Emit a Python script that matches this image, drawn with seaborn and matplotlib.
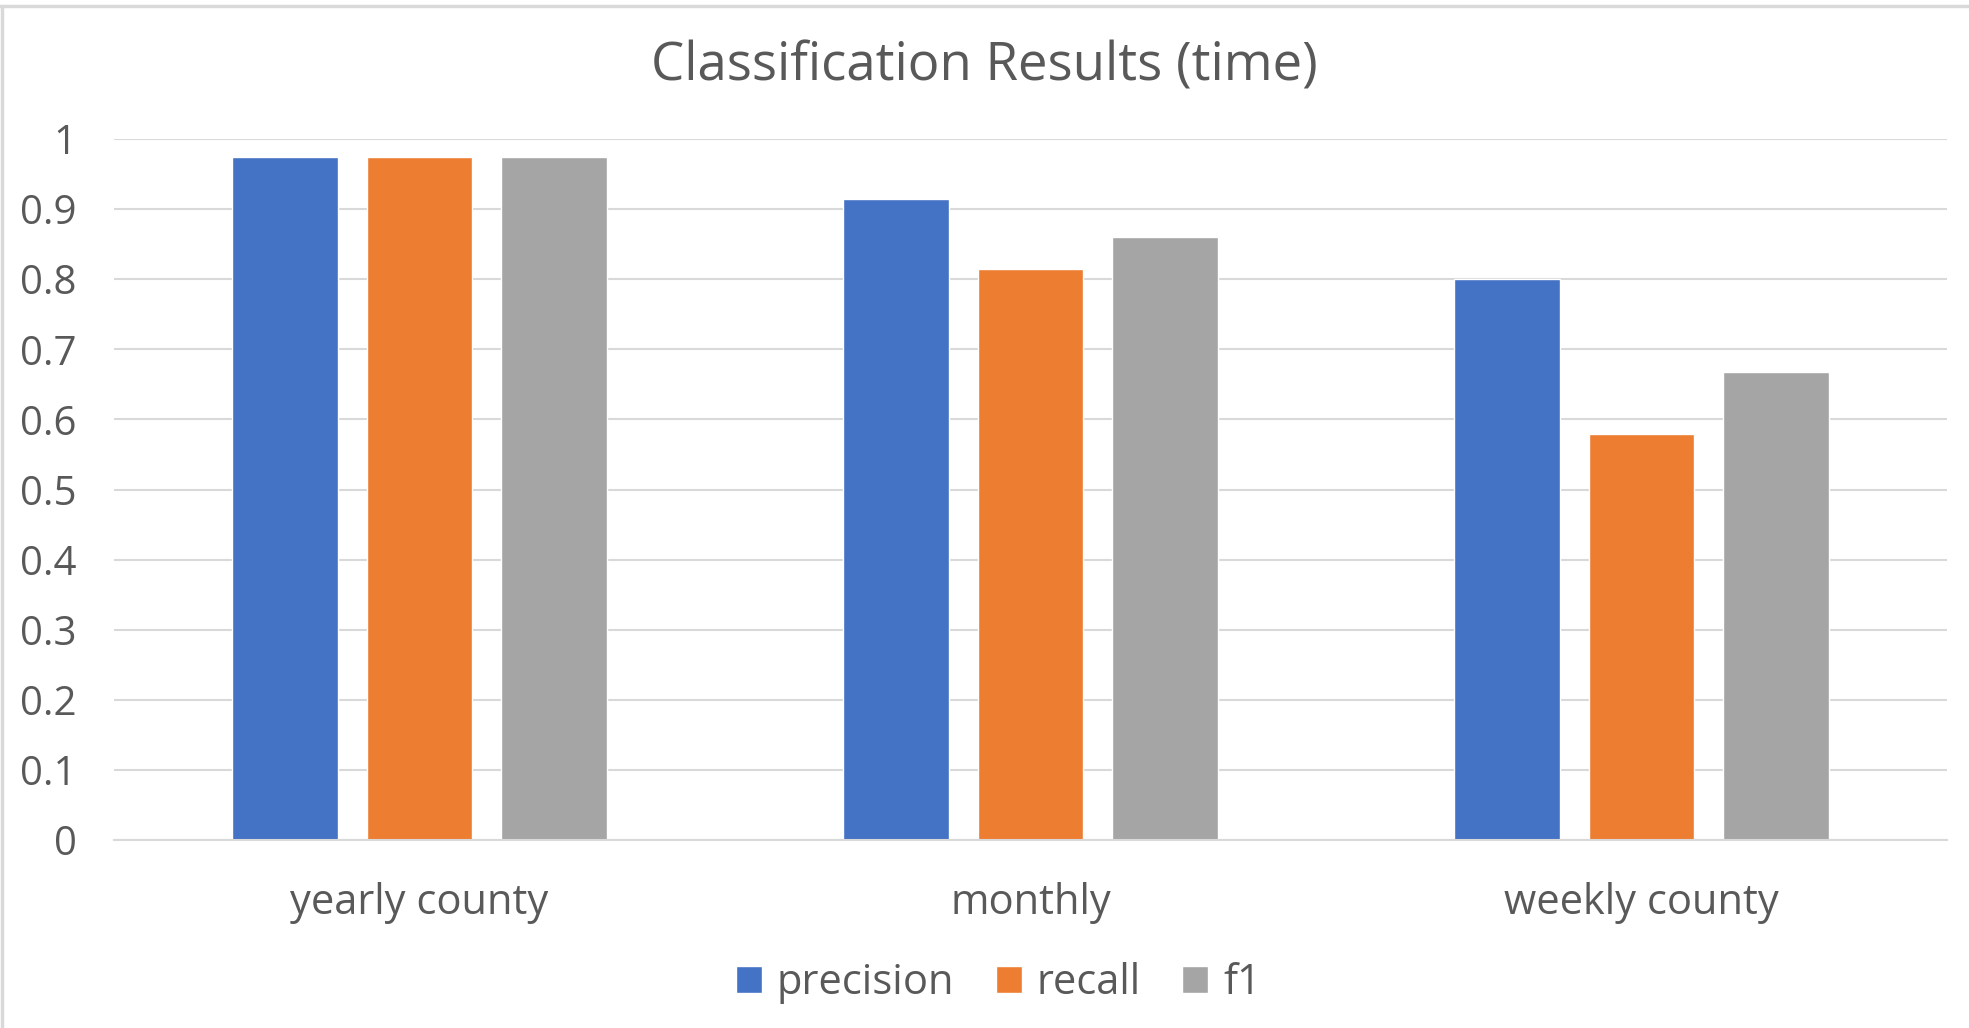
import pandas as pd
import numpy as np
import seaborn as sns
import matplotlib.pyplot as plt
from matplotlib.lines import Line2D

categories = ['yearly county', 'monthly', 'weekly county']
metrics = ['precision', 'recall', 'f1']
precision = [0.975, 0.914, 0.800]
recall = [0.975, 0.814, 0.579]
f1 = [0.975, 0.860, 0.668]
yticks = [0, 0.1, 0.2, 0.3, 0.4, 0.5, 0.6, 0.7, 0.8, 0.9, 1]
ytick_labels = ['0', '0.1', '0.2', '0.3', '0.4', '0.5', '0.6', '0.7', '0.8', '0.9', '1']

df = pd.DataFrame({
    'category': np.repeat(categories, 3),
    'metric': metrics * 3,
    'value': [v for trio in zip(precision, recall, f1) for v in trio],
})

sns.set_style('white')
plt.rcParams['font.family'] = ['Open Sans', 'DejaVu Sans']
text_color = '#595959'

fig = plt.figure(figsize=(19.69, 10.28), dpi=100)
ax = fig.add_axes([114 / 1969, 1 - 840 / 1028, (1947 - 114) / 1969, (840 - 139) / 1028])

sns.barplot(data=df, x='category', y='value', hue='metric', order=categories,
            hue_order=metrics, palette=['#4472C4', '#ED7D31', '#A5A5A5'],
            width=0.662, gap=0.214, ax=ax, errorbar=None, saturation=1)

ax.set_xlim(-0.5, 2.5)
ax.set_ylim(0, 1)
ax.set_yticks(yticks)
ax.set_yticklabels(ytick_labels)
ax.yaxis.grid(True, color='#D9D9D9', linewidth=1.5)
ax.set_axisbelow(True)
for s in ['top', 'right', 'left']:
    ax.spines[s].set_visible(False)
ax.spines['bottom'].set_color('#D9D9D9')
ax.spines['bottom'].set_linewidth(1.5)
ax.tick_params(axis='both', length=0, colors=text_color)
ax.tick_params(axis='x', pad=30, labelsize=30)
ax.tick_params(axis='y', pad=27, labelsize=29)
ax.set_xlabel('')
ax.set_ylabel('')

fig.text(0.5, 1 - 67 / 1028, 'Classification Results (time)', ha='center', va='center',
         fontsize=38, color=text_color)

handles, labels = ax.get_legend_handles_labels()
ax.legend_.remove()
fig.legend(handles, labels, loc='center', bbox_to_anchor=(0.507, 1 - 983 / 1028), ncol=3,
           frameon=False, fontsize=30, labelcolor=text_color, handlelength=0.63,
           handleheight=0.63, handletextpad=0.35, columnspacing=1.0)

# chart border (only top and left visible in the original crop)
fig.add_artist(Line2D([0.001, 0.001], [0, 1 - 6 / 1028], transform=fig.transFigure,
                      color='#D9D9D9', linewidth=2.5))
fig.add_artist(Line2D([0, 1], [1 - 6 / 1028, 1 - 6 / 1028], transform=fig.transFigure,
                      color='#D9D9D9', linewidth=2.5))

fig.savefig('out.png', dpi=100)
